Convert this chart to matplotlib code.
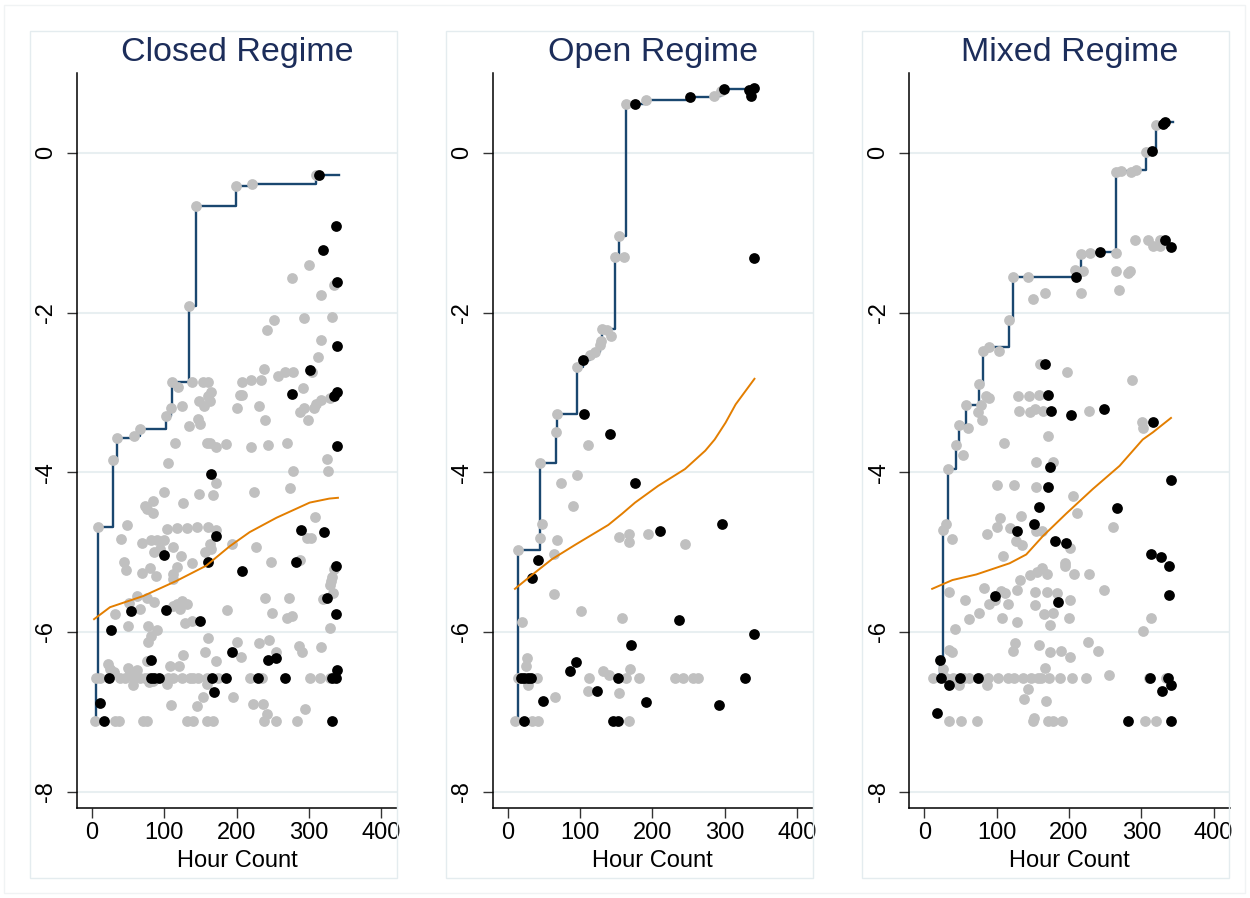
import numpy as np
import matplotlib
matplotlib.use("Agg")
import matplotlib.pyplot as plt
from matplotlib.patches import Rectangle

plt.rcParams['font.family'] = ['Liberation Sans', 'DejaVu Sans']

# ---- Closed regime: (hour, score) ----
closed_gray = [
    (310, -0.275), (199, -0.41), (221.6, -0.39), (143.4, -0.67), (300, -1.40), (276, -1.57),
    (334, -1.66), (317, -1.78), (133.8, -1.92), (293, -2.07), (331.5, -2.05), (251.5, -2.09),
    (242, -2.22), (317, -2.35), (312.6, -2.56), (237.7, -2.71), (304.8, -2.75), (257, -2.79),
    (266.7, -2.75), (278, -2.75), (110.3, -2.87), (138.4, -2.87), (153, -2.87), (160, -2.87),
    (119.5, -2.93), (208, -2.87), (219.8, -2.85), (233.6, -2.85), (291.5, -2.95), (328.7, -3.07),
    (316.3, -3.09), (310.3, -3.14), (307, -3.2), (293, -3.2), (288, -3.25), (298.4, -3.35),
    (164.6, -3.0), (160, -3.05), (148.5, -3.11), (155.4, -3.17), (163.2, -3.11), (204.6, -3.03),
    (207.8, -3.03), (200.5, -3.2), (230.3, -3.17), (239.5, -3.35), (125, -3.17), (109.4, -3.2),
    (102.5, -3.3), (146.7, -3.33), (149.4, -3.4), (134.7, -3.42), (67.1, -3.46), (57.5, -3.55),
    (35, -3.57), (115, -3.64), (158.6, -3.64), (163, -3.64), (171.5, -3.69), (184.8, -3.65),
    (220, -3.69), (243.7, -3.66), (270, -3.64), (29, -3.85), (104.8, -3.89), (325, -3.84),
    (326.4, -3.99), (278, -3.98), (171.5, -4.14), (273.6, -4.2), (99.8, -4.25), (148.5, -4.27),
    (166.9, -4.29), (224, -4.25), (85, -4.36), (73.6, -4.42), (75.9, -4.46), (84, -4.51),
    (125.5, -4.38), (308, -4.56), (7.8, -4.68), (48.3, -4.66), (103.4, -4.71), (117, -4.70),
    (131, -4.70), (144.8, -4.69), (161, -4.69), (171.5, -4.72), (296.6, -4.82), (303.4, -4.82),
    (40.5, -4.84), (69.4, -4.88), (81.4, -4.85), (89.7, -4.85), (99.8, -4.85), (86, -5.0),
    (94.3, -4.96), (112, -4.94), (163.2, -4.9), (156.3, -5.0), (164.6, -4.96), (193.6, -4.9),
    (226.7, -4.94), (122.8, -5.05), (137.9, -5.14), (43.7, -5.13), (46.9, -5.22), (69.4, -5.26),
    (80.5, -5.2), (88.3, -5.3), (117.2, -5.19), (112.6, -5.28), (112.6, -5.34), (247.8, -5.13),
    (287, -5.1), (334.7, -5.21), (332.4, -5.31), (331, -5.36), (328.7, -5.41), (333.3, -5.51),
    (319.5, -5.59), (62, -5.55), (75.9, -5.57), (50.6, -5.64), (86.4, -5.63), (117.2, -5.65),
    (124, -5.61), (131, -5.65), (121.8, -5.71), (112.6, -5.67), (239.5, -5.57), (272, -5.57),
    (186.7, -5.73), (32.2, -5.78), (66.7, -5.71), (248.7, -5.76), (269, -5.83), (275.9, -5.8),
    (128.7, -5.89), (137.9, -5.86), (49.7, -5.92), (77.2, -5.92), (89.7, -5.97), (328.7, -5.95),
    (81.4, -6.05), (77.2, -6.12), (161, -6.07), (200, -6.13), (230.3, -6.14), (244.6, -6.1),
    (286.4, -6.18), (291, -6.25), (316.3, -6.19), (206, -6.31), (255, -6.25), (126.4, -6.29),
    (156.3, -6.25), (171.5, -6.36), (76.8, -6.36), (108, -6.42), (121, -6.42), (21.6, -6.40),
    (24.4, -6.46), (30, -6.5), (49.7, -6.45), (62, -6.48), (52.9, -6.5),
    (5.5, -6.575), (11.5, -6.575), (39, -6.575), (46, -6.575), (58.4, -6.575), (66.7, -6.575),
    (73.6, -6.575), (78.2, -6.575), (105.7, -6.575), (112.6, -6.575), (124, -6.575),
    (135.6, -6.575), (140.2, -6.575), (147, -6.575), (158.6, -6.575), (174.7, -6.575),
    (218.4, -6.575), (234.5, -6.575), (301, -6.575), (315, -6.575), (328.7, -6.575),
    (56.6, -6.66), (79.5, -6.63), (85, -6.62), (103.4, -6.65), (159.5, -6.65), (153, -6.81),
    (194.5, -6.82), (109, -6.92), (145.7, -6.93), (222, -6.90), (236.8, -6.90), (242.3, -7.03),
    (294.7, -6.97),
    (4.6, -7.12), (32.2, -7.12), (36.8, -7.12), (71.3, -7.12), (76.8, -7.12), (131, -7.12),
    (140.2, -7.12), (159.5, -7.12), (166.9, -7.12), (237.7, -7.12), (253.8, -7.12), (282.8, -7.12),
]
closed_black = [
    (314, -0.275), (337.5, -0.92), (319, -1.22), (339.3, -1.62), (339, -2.42), (300.7, -2.72),
    (276.8, -3.02), (338.4, -3.0), (334.3, -3.05), (338.4, -3.67), (164.6, -4.02), (171, -4.8),
    (288.3, -4.72), (321, -4.75), (99.8, -5.04), (160, -5.13), (207.4, -5.24), (281.4, -5.13),
    (337.5, -5.18), (325.5, -5.57), (54.3, -5.74), (102.5, -5.73), (337, -5.78), (149.4, -5.86),
    (26.7, -5.97), (193.6, -6.25), (254.7, -6.32), (243.2, -6.35), (81.4, -6.35),
    (23, -6.575), (81.4, -6.575), (86, -6.575), (93.3, -6.575), (165.5, -6.575),
    (185.7, -6.575), (229.9, -6.575), (266.7, -6.575), (332.4, -6.575), (337, -6.575),
    (338.4, -6.48), (168.3, -6.75), (10.6, -6.89), (17, -7.12), (332.4, -7.12),
]
closed_fit_x = [3, 25, 71, 117, 158, 190, 218, 255, 301, 328, 340]
closed_fit_y = [-5.84, -5.69, -5.55, -5.36, -5.17, -4.93, -4.75, -4.57, -4.38, -4.33, -4.32]

# ---- Open regime ----
open_gray = [
    (162.9, 0.617), (191, 0.658), (285.6, 0.717), (295.3, 0.775), (153.2, -1.046), (147.6, -1.31),
    (161, -1.31), (130, -2.21), (137, -2.225), (142.6, -2.30), (128.3, -2.36), (127.8, -2.41),
    (120.9, -2.50), (114, -2.53), (95.5, -2.68), (68.3, -3.27), (66.4, -3.50), (111.6, -3.66),
    (45.2, -3.88), (95.5, -4.03), (73.8, -4.13), (90.9, -4.42), (47, -4.65), (45.2, -4.82),
    (68.3, -4.85), (167, -4.77), (153.2, -4.81), (167, -4.87), (193.3, -4.77), (245.4, -4.90),
    (13.8, -4.97), (64.1, -5.03), (64.1, -5.52), (101, -5.74), (158.2, -5.83), (19.4, -5.87),
    (27.2, -6.33), (25.8, -6.42), (132, -6.49), (140.3, -6.54), (169.3, -6.47),
    (13.8, -6.575), (40.1, -6.575), (113, -6.575), (163.8, -6.575), (180.9, -6.575),
    (230.7, -6.575), (241.8, -6.575), (255.6, -6.575), (262.5, -6.575),
    (27.7, -6.66), (111.6, -6.74), (154.1, -6.77), (65.5, -6.81),
    (10.1, -7.12), (33.2, -7.12), (42.4, -7.12), (167, -7.12),
]
open_black = [
    (175.3, 0.617), (251.4, 0.696), (299.4, 0.8), (333, 0.79), (340, 0.81), (336.8, 0.717),
    (340.5, -1.32), (103.8, -2.59), (105.2, -3.27), (141.2, -3.525), (175.3, -4.13),
    (296.2, -4.65), (210.4, -4.74), (42.4, -5.1), (34.1, -5.32), (236.2, -5.85), (340.5, -6.03),
    (170.2, -6.16), (94.1, -6.37), (85.8, -6.49),
    (18.5, -6.575), (23.1, -6.575), (28.6, -6.575), (32.3, -6.575), (152.2, -6.575), (328.5, -6.575),
    (123.2, -6.74), (49.4, -6.87), (191, -6.88), (291.6, -6.91),
    (22.1, -7.12), (144.9, -7.12), (152.2, -7.12),
]
open_fit_x = [10, 33, 61, 93, 139, 158, 176, 208, 245, 273, 286, 301, 315, 341]
open_fit_y = [-5.46, -5.29, -5.09, -4.91, -4.66, -4.52, -4.38, -4.17, -3.96, -3.73, -3.59,
              -3.38, -3.15, -2.83]

# ---- Mixed regime ----
mixed_gray = [
    (320.6, 0.35), (306.8, 0.004), (264.4, -0.246), (271.3, -0.225), (285.1, -0.246), (293, -0.22),
    (291.6, -1.09), (309.6, -1.09), (316, -1.17), (325.3, -1.17), (326.2, -1.09), (217.3, -1.27),
    (228.8, -1.26), (265.3, -1.26), (122.3, -1.55), (143.9, -1.55), (209, -1.47), (220, -1.48),
    (264.8, -1.48), (281.4, -1.50), (284.7, -1.48), (150.9, -1.83), (167, -1.75), (216.4, -1.75),
    (268.5, -1.72), (117.6, -2.10), (80.7, -2.48), (90, -2.43), (102.9, -2.48), (160.6, -2.65),
    (197.5, -2.75), (287.4, -2.85), (76.1, -2.89), (85.4, -3.05), (90, -3.07), (129.2, -3.05),
    (144.4, -3.05), (159.2, -3.03), (58.1, -3.16), (78.9, -3.16), (74.7, -3.25), (79.8, -3.35),
    (131.5, -3.23), (146.2, -3.24), (153.6, -3.21), (163.8, -3.23), (227.5, -3.23), (47.5, -3.41),
    (60, -3.45), (300.8, -3.37), (302.2, -3.44), (171.6, -3.55),
    (43.8, -3.66), (54, -3.78), (110.7, -3.63), (33.2, -3.96), (154.6, -3.87), (178.5, -3.87),
    (101, -4.16), (124.1, -4.16), (154.6, -4.18), (206.2, -4.3), (211.3, -4.51), (104.7, -4.57),
    (133.3, -4.55), (30, -4.65), (26.3, -4.72), (100.1, -4.69), (118.6, -4.70), (154.6, -4.73),
    (162.9, -4.74), (260.2, -4.68), (38.8, -4.83), (86.3, -4.77), (126.9, -4.86), (135.2, -4.91),
    (202.1, -4.95), (109.3, -5.05), (195.2, -5.14), (194.2, -5.17), (145.8, -5.29), (155.5, -5.245),
    (162.9, -5.2), (169.8, -5.28), (207.2, -5.28), (228.4, -5.28), (132.4, -5.35), (82.1, -5.45),
    (33.7, -5.5), (105.7, -5.49), (112.1, -5.51), (127.8, -5.48), (153.2, -5.5), (169.8, -5.5),
    (183.6, -5.51), (248.2, -5.48), (202.1, -5.6), (56.7, -5.6), (90, -5.65), (97.8, -5.6),
    (115.3, -5.65), (75.2, -5.76), (62.3, -5.84), (107, -5.82), (127.8, -5.87), (153.2, -5.66),
    (166.1, -5.77), (178.5, -5.76), (174.4, -5.91), (199.8, -5.83), (42.4, -5.96), (312.8, -5.83),
    (302.2, -5.99), (34.6, -6.22), (38.3, -6.25), (126, -6.14), (123.2, -6.24), (159.2, -6.16),
    (173.5, -6.25), (189.2, -6.24), (201.2, -6.31), (226.5, -6.13), (239.5, -6.24), (26.3, -6.46),
    (256, -6.54), (167.5, -6.45),
    (11.5, -6.575), (30, -6.575), (39.2, -6.575), (55.4, -6.575), (62.3, -6.575), (76.1, -6.575),
    (87.7, -6.575), (101.5, -6.575), (115.3, -6.575), (124.6, -6.575), (136.1, -6.575),
    (147.6, -6.575), (156.9, -6.575), (161.5, -6.575), (173, -6.575), (188.2, -6.575),
    (204.4, -6.575), (223.8, -6.575), (310.5, -6.575), (334.5, -6.575),
    (48.4, -6.67), (86.3, -6.67), (143.5, -6.71), (138.4, -6.84), (168.9, -6.87), (151.3, -7.08),
    (33.7, -7.12), (50.7, -7.12), (72.9, -7.12), (150.9, -7.12), (171.6, -7.12), (177.6, -7.12),
    (191, -7.12), (304.5, -7.12), (319.7, -7.12),
]
mixed_black = [
    (329.9, 0.36), (333, 0.38), (315.1, 0.017), (332.2, -1.09), (340.5, -1.18), (243.1, -1.24),
    (210.4, -1.55), (166.5, -2.65), (171.2, -3.03), (175.3, -3.23), (203.5, -3.28), (248.2, -3.21),
    (316, -3.37), (173.5, -3.93), (340.5, -4.10), (171.6, -4.19), (159.2, -4.44), (266.2, -4.45),
    (151.3, -4.65), (128.7, -4.73), (180.9, -4.86), (196.1, -4.89), (312.8, -5.03), (327.6, -5.06),
    (338.6, -5.18), (97.3, -5.55), (337.7, -5.54), (184.5, -5.63), (22.1, -6.35),
    (23.1, -6.575), (49.4, -6.575), (73.8, -6.575), (312.3, -6.575), (336.8, -6.575),
    (340.5, -6.66), (34.1, -6.66), (328.9, -6.74), (17.1, -7.01), (281.4, -7.12), (340.5, -7.12),
]
mixed_fit_x = [11, 39, 72, 118, 141, 164, 196, 233, 270, 302, 316, 341]
mixed_fit_y = [-5.46, -5.35, -5.28, -5.14, -5.03, -4.80, -4.52, -4.21, -3.92, -3.59, -3.50, -3.32]

titles = ['Closed Regime', 'Open Regime', 'Mixed Regime']
end_hour = [342, 342, 344]
panels = [
    (closed_gray, closed_black, closed_fit_x, closed_fit_y),
    (open_gray, open_black, open_fit_x, open_fit_y),
    (mixed_gray, mixed_black, mixed_fit_x, mixed_fit_y),
]

navy = '#1a476f'
orange = '#e37e00'
grid_c = '#e8eff1'
frame_c = '#e4ecef'

fig = plt.figure(figsize=(12.5, 8.98), dpi=100)
fig.patches.append(Rectangle((4 / 1250, 5 / 898), 1241 / 1250, 888 / 898,
                             transform=fig.transFigure, fill=False,
                             edgecolor='#f0f3f4', lw=1))

ax_left = [76.7, 492.5, 909]
frame_left = [30, 446, 862]

for i, (gray, black, fx, fy) in enumerate(panels):
    fig.patches.append(Rectangle((frame_left[i] / 1250, 20 / 898), 367 / 1250, 847 / 898,
                                 transform=fig.transFigure, fill=False,
                                 edgecolor=frame_c, lw=1))
    ax = fig.add_axes([ax_left[i] / 1250, 0.1006, 320.6 / 1250, 0.8182])

    g = np.array(gray)
    b = np.array(black)
    allpts = np.vstack([g, b])
    order = np.argsort(allpts[:, 0], kind='stable')
    sx = allpts[order, 0]
    sy = np.maximum.accumulate(allpts[order, 1])
    # running best, carried to the end of the observation window
    sx = np.append(sx, end_hour[i])
    sy = np.append(sy, sy[-1])
    ax.plot(sx, sy, drawstyle='steps-post', color=navy, lw=1.7, zorder=2)

    ax.scatter(g[:, 0], g[:, 1], s=60, color='#c0c0c0', linewidths=0, zorder=3)
    ax.scatter(b[:, 0], b[:, 1], s=60, color='black', linewidths=0, zorder=4)
    ax.plot(fx, fy, color=orange, lw=1.4, zorder=5)

    ax.set_xlim(-21, 422)
    ax.set_ylim(-8.2, 1.0)
    ax.set_xticks([0, 100, 200, 300, 400])
    ax.set_yticks([0, -2, -4, -6, -8])
    ax.set_yticklabels(['0', '-2', '-4', '-6', '-8'], rotation=90, va='center')
    ax.yaxis.grid(True, color=grid_c, lw=1.5)
    ax.set_axisbelow(True)
    for s in ['top', 'right']:
        ax.spines[s].set_visible(False)
    for s in ['left', 'bottom']:
        ax.spines[s].set_linewidth(1.1)
    ax.tick_params(axis='both', labelsize=17, length=7, width=1.0, color='#333333')
    ax.tick_params(axis='x', pad=3)
    ax.tick_params(axis='y', pad=7)
    ax.set_xlabel('Hour Count', fontsize=17, labelpad=5)
    ax.text(0.5, 1.028, titles[i], transform=ax.transAxes, ha='center', va='center',
            fontsize=24.5, color='#1c2d5a')

fig.savefig('out.png', dpi=100)
